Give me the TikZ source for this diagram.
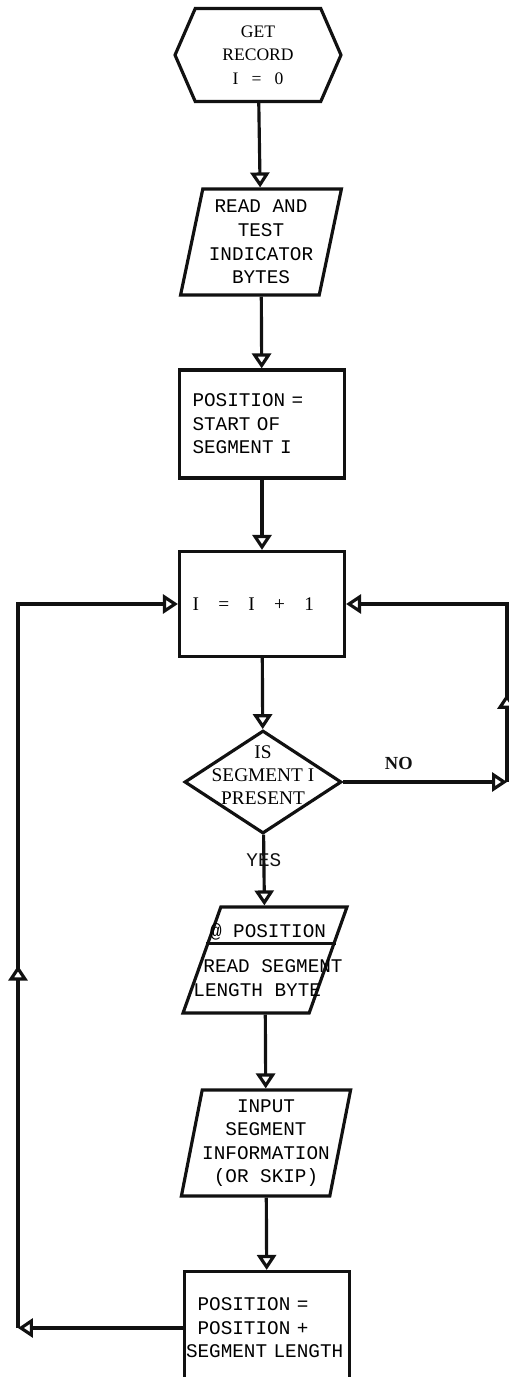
\documentclass[tikz,border=0pt]{standalone}
\usepackage{fontspec}
\setmainfont{Liberation Serif}
\setmonofont{Liberation Mono}
\usepackage{tikz}
\usetikzlibrary{positioning,arrows.meta,calc,shapes.geometric,shapes.symbols,
                decorations.markings}
\definecolor{cInk}{HTML}{111111}
\tikzset{
  fc/base/.style ={draw=cInk, line width=1.8pt, inner sep=0pt, align=center,
                   font=\ttfamily\fontsize{11}{13.4}\selectfont},
  fc/term/.style ={fc/base, shape=signal, signal to=west and east,
                   signal pointer angle=133, minimum width=3.32cm,
                   minimum height=1.86cm, font=\rmfamily\fontsize{10}{13.5}\selectfont},
  fc/io/.style   ={fc/base, trapezium, trapezium left angle=76.6,
                   trapezium right angle=103.4, trapezium stretches=true,
                   minimum width=3.24cm, minimum height=2.12cm},
  fc/proc/.style ={fc/base, rectangle, minimum height=2.1cm, text width=2.78cm,
                   inner xsep=0.26cm, align=left},
  fc/dec/.style  ={fc/base, diamond, minimum width=3.14cm, minimum height=2.06cm},
  fc/txt/.style  ={inner sep=0pt, align=center,
                   font=\ttfamily\fontsize{11}{13.4}\selectfont},
  fc/serif/.style={inner sep=0pt, align=center,
                   font=\rmfamily\fontsize{11}{13}\selectfont},
  fc/arr/.style  ={-{Triangle[fill=white, length=0.3cm, width=0.38cm]},
                   line width=1.8pt, cInk},
  fc/midup/.style={postaction=decorate, decoration={markings,
                   mark=at position #1 with {\arrow{Triangle[fill=white, length=0.3cm, width=0.38cm]}}}}
}
\begin{document}
\begin{tikzpicture}[x=0.02cm, y=-0.02cm]
  \useasboundingbox (0,0) rectangle (509,1377);
  % main column, top to bottom
  \node[fc/term] (start) at (258,55) {GET\\RECORD\\I~~~=~~~0};
  \node[fc/io] (read) at (261,242) {READ AND\\TEST\\INDICATOR\\BYTES};
  \node[fc/proc, minimum height=2.16cm] (init) at (262,424)
       {POSITION =\\START OF\\SEGMENT I};
  \node[fc/proc, font=\rmfamily\fontsize{11}{13}\selectfont] (inc) at (262,604)
       {I~~~=~~~I~~~+~~~1};
  \node[fc/dec] (test) at (263,782) {};
  \node[fc/serif] (testtxt) at ([shift={(0,-7)}]test.center) {IS\\SEGMENT I\\PRESENT};
  \node[fc/io, minimum width=3.28cm] (seek) at (265,960)
       {\phantom{READ}\\\phantom{READ}\\\phantom{READ}\\\phantom{READ}};
  \node[fc/txt] (seektop) at ([shift={(3,-28)}]seek.center) {@ POSITION};
  \node[fc/txt, align=left] (seekbot) at ([shift={(8,18)}]seek.center)
       {READ SEGMENT\\\hspace*{-0.2cm}LENGTH BYTE};
  \node[fc/io] (input) at (266,1143) {INPUT\\SEGMENT\\INFORMATION\\(OR SKIP)};
  \node[fc/proc, minimum height=2.26cm, text width=3.24cm, inner xsep=0.03cm] (upd)
       at (267,1328) {\hspace*{6.6pt}POSITION =\\\hspace*{6.6pt}POSITION +\\SEGMENT LENGTH};
  % divider inside the seek box
  \draw[line width=1.8pt, cInk] ($(seek.top left corner)!0.35!(seek.bottom left corner)$)
       -- ($(seek.top right corner)!0.35!(seek.bottom right corner)$);
  % loop corners
  \coordinate (lx) at (18,0);
  \coordinate (rx) at (507,0);
  \coordinate (lbot) at (upd.west -| lx);
  \coordinate (ltop) at (inc.west -| lx);
  \coordinate (rbot) at (test.east -| rx);
  \coordinate (rtop) at (inc.east -| rx);
  % flow
  \draw[fc/arr] (start) -- (read);
  \draw[fc/arr] (read) -- (init);
  \draw[fc/arr] (init) -- (inc);
  \draw[fc/arr] (inc) -- (test);
  \draw[fc/arr] (test) -- node[fc/txt, pos=0.36] (yes) {YES} (seek);
  \draw[fc/arr] (seek) -- (input);
  \draw[fc/arr] (input) -- (upd);
  \draw[fc/arr] (test) -- node[pos=0.34, above=6pt, inner sep=0pt,
       font=\rmfamily\bfseries\fontsize{10.5}{12}\selectfont] (no) {NO} (rbot);
  \draw[fc/arr, fc/midup=0.26] (rbot) -- (rtop) -- (inc);
  \draw[fc/arr] (upd) -- (lbot);
  \draw[fc/arr, fc/midup=0.41] (lbot) -- (ltop) -- (inc);
\end{tikzpicture}
\end{document}
